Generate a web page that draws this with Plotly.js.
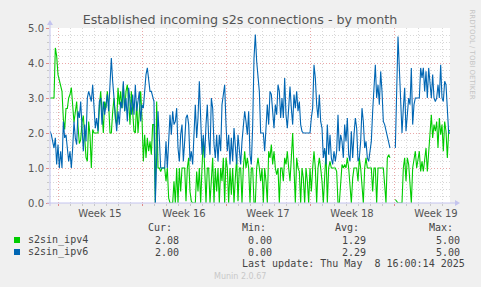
<!DOCTYPE html>
<html>
<head>
<meta charset="utf-8">
<script src="https://cdn.plot.ly/plotly-3.0.1.min.js"></script>
<style>html,body{margin:0;padding:0;background:#f0f0f0;}#chart{width:481px;height:287px;}</style>
</head>
<body>
<div id="chart"></div>
<script>
// ---- data ----
const seriesNames = ['s2sin_ipv4', 's2sin_ipv6'];
const seriesColors = ['#00cc00', '#0066b3'];
const startTime = '2025-04-05 08:00';
const endTime = '2025-05-08 16:00';
const stepMinutes = 160;

const ipv4 = [
  3.0,3.0,3.0,3.0,4.43,4.2,3.67,3.5,3.38,3.19,2.4,2.1,2.7,2.7,3.0,3.1,3.3,2.9,2.3,2.6,2.9,2.2,1.7,1.8,2.3,2.5,1.95,1.3,1.19,2.33,1.95,1.0,2.1,2.0,2.0,2.0,2.0,2.7,3.19,2.62,2.0,2.9,2.7,3.19,2.81,2.0,2.0,2.6,3.0,2.4,
  2.24,3.29,2.81,3.19,2.71,3.38,2.62,3.19,3.38,2.9,2.24,3.19,2.71,2.05,2.0,2.9,2.0,2.81,3.19,2.43,1.19,1.95,1.29,1.86,1.48,1.76,1.38,2.24,2.24,0,2.9,1.0,1.0,0.9,1.0,1.0,1.0,0.62,1.0,0.14,0,0,0,0.62,0,1.0,0,1.0,0.33,1.0,1.0,
  1.0,0.05,1.0,1.29,0.33,0.05,0,0,0,0.9,0.33,1.0,0,1.0,1.86,1.0,0,1.0,1.0,0,0.62,1.29,0,1.0,0.33,1.0,0,1.0,0.62,1.29,0,1.29,1.0,0,1.0,0.24,1.0,0,0.71,1.29,0.05,1.0,1.0,0,1.0,1.48,1.0,1.29,1.0,0,1.0,
  1.0,0,0,1.0,1.29,1.0,0.62,1.0,0,1.0,0.62,0,1.48,1.29,1.67,1.1,1.48,1.0,0.81,1.0,0,1.0,1.0,0.62,1.29,1.1,1.48,1.0,0.62,1.29,2.0,1.0,0,1.29,1.0,0.9,0,1.0,0.71,0,1.0,0.62,0,1.0,0.33,1.0,1.48,1.0,0,1.0,1.29,
  1.0,0.62,0,1.0,1.48,0,1.0,1.19,1.0,1.0,1.0,1.0,0.9,0,0,0.62,1.1,1.0,1.1,1.0,1.29,1.0,0.33,0,0.71,1.0,1.0,1.0,0.62,1.29,1.0,0.52,0,1.0,1.29,1.0,1.0,1.0,1.0,0.33,1.0,1.0,0,1.0,1.0,1.0,1.0,1.0,0.52,0,1.29,
  1.38,1.29,null,null,null,0.1,0.05,0,0,0,0,1.0,1.29,0.62,1.29,1.1,0.52,0,1.0,1.19,1.48,1.0,1.29,1.48,0.9,1.19,0.9,1.29,1.57,0.9,1.48,2.24,2.52,1.86,2.24,2.05,2.33,1.57,2.43,1.95,2.24,1.48,2.33,2.05,1.29,2.05,2.08
];
const ipv6 = [
  2.05,1.95,1.76,1.57,1.86,1.1,1.67,1.0,1.48,1.0,2.33,1.86,1.95,1.48,1.19,1.48,1.0,1.57,2.33,1.86,1.67,2.62,2.43,2.9,2.05,1.48,2.24,1.76,3.0,3.19,3.05,2.9,3.38,2.71,2.14,2.43,2.05,2.9,3.0,2.24,2.9,2.52,2.81,3.1,2.62,3.57,4.14,3.48,2.9,2.43,
  2.05,2.62,2.24,2.9,2.71,3.48,2.62,3.0,2.33,3.29,2.81,2.52,3.1,2.52,3.38,2.62,2.9,3.19,2.33,2.81,2.71,3.19,3.67,3.86,3.48,3.19,3.19,3.0,2.9,0,1.38,2.62,1.86,1.0,1.0,1.0,1.0,1.76,1.0,1.76,2.52,1.95,2.62,2.24,2.33,2.71,1.57,1.19,1.95,2.24,1.19,
  1.76,2.43,2.52,2.24,1.19,1.48,1.1,2.05,2.81,1.86,2.43,3.48,2.24,1.38,1.95,1.29,2.24,2.81,1.86,1.38,3.0,2.71,1.67,1.29,1.95,1.19,1.95,1.48,2.81,3.1,3.38,2.24,1.48,1.95,1.1,1.86,1.19,2.14,1.67,1.1,1.95,1.48,1.1,1.76,2.33,2.62,2.33,1.95,2.62,1.38,1.1,
  2.2,4.14,4.81,4.05,3.67,3.19,2.0,2.0,2.0,1.48,2.24,2.81,2.24,3.19,3.1,2.62,2.14,2.81,2.52,3.38,3.19,2.43,3.0,2.43,3.57,2.52,2.14,2.71,3.33,2.71,2.24,3.1,2.71,3.19,2.62,2.9,2.24,2.05,2.0,2.0,2.0,2.0,2.0,2.0,2.43,2.71,3.95,3.57,2.81,2.43,3.1,
  2.33,2.14,1.29,1.57,1.1,2.24,1.38,1.95,1.29,1.1,1.48,1.19,1.48,2.52,1.48,1.95,1.76,1.29,2.24,1.76,2.43,1.38,1.19,2.05,1.29,1.95,2.43,2.14,1.19,1.29,1.76,2.71,2.33,1.57,1.76,1.29,1.19,1.48,1.76,2.62,3.38,3.95,3.0,3.38,2.81,3.76,3.19,2.33,2.24,2.05,1.9,
  1.76,1.57,null,null,null,1.57,3.5,4.76,3.86,2.71,2.0,2.71,3.29,2.05,2.62,3.0,2.81,3.86,2.24,2.81,3.0,3.0,3.0,3.0,3.86,3.57,3.86,3.19,3.76,3.0,3.86,3.38,3.0,3.67,3.0,2.9,3.0,3.38,3.0,3.95,3.0,2.9,3.48,3.38,2.43,2.0,2.0
];

const weekStarts = ['2025-04-06', '2025-04-13', '2025-04-20', '2025-04-27', '2025-05-04'];
const weekLabels = ['Week 15', 'Week 16', 'Week 17', 'Week 18', 'Week 19'];
const statHeaders = ['Cur:', 'Min:', 'Avg:', 'Max:'];
const curVals = ['2.08', '2.00'];
const minVals = ['0.00', '0.00'];
const avgVals = ['1.29', '2.29'];
const maxVals = ['5.00', '5.00'];
const lastUpdate = 'Last update: Thu May\u00a0 8 16:00:14 2025';
const chartTitle = 'Established incoming s2s connections - by month';
const sideText = 'RRDTOOL / TOBI OETIKER';
const footerText = 'Munin 2.0.67';

// ---- helpers ----
function pad(n) { return String(n).padStart(2, '0'); }
function fmt(ms) {
  const d = new Date(ms);
  return d.getUTCFullYear() + '-' + pad(d.getUTCMonth() + 1) + '-' + pad(d.getUTCDate()) + ' ' +
         pad(d.getUTCHours()) + ':' + pad(d.getUTCMinutes());
}
function parseT(s) { return Date.parse(s.replace(' ', 'T') + (s.length > 10 ? ':00Z' : 'T00:00:00Z')); }
const t0 = parseT(startTime);
const times = ipv4.map((_, i) => fmt(t0 + i * stepMinutes * 60000));
const weekMids = weekStarts.map(s => fmt(parseT(s) + 3.5 * 86400000));

// figure pixel -> paper coords (plot area: x 50..450, y 28..203)
const L = 50, R = 450, T = 28, B = 203;
const px = x => (x - L) / (R - L);
const py = y => (B - y) / (B - T);

const axisCol = '#c4c4ee';
const redGrid = '#eaa8a8';
const grayGrid = '#d8d8d8';
const dots = '1px,2px';

// ipv4 on the grid axis, ipv6 on the overlaid labelled axis (drawn on top, same range)
const traces = [
  { x: times, y: ipv4, name: seriesNames[0], type: 'scatter', mode: 'lines', xaxis: 'x', yaxis: 'y',
    line: { color: seriesColors[0], width: 1.1 }, connectgaps: false, hoverinfo: 'skip' },
  { x: times, y: ipv6, name: seriesNames[1], type: 'scatter', mode: 'lines', xaxis: 'x2', yaxis: 'y',
    line: { color: seriesColors[1], width: 1.1 }, connectgaps: false, hoverinfo: 'skip' }
];

const mono = { family: 'DejaVu Sans Mono', size: 10, color: '#444' };
const annotations = [];
const headerRight = [173, 267, 360, 454];
const valueRight = [180, 273, 367, 461];
statHeaders.forEach((h, j) => annotations.push({
  xref: 'paper', yref: 'paper', x: px(headerRight[j]), y: py(227), xanchor: 'right', yanchor: 'middle',
  text: h, showarrow: false, font: mono, borderpad: 0
}));
const rowsY = [240, 252];
const statCols = [curVals, minVals, avgVals, maxVals];
seriesNames.forEach((n, i) => {
  annotations.push({ xref: 'paper', yref: 'paper', x: px(27), y: py(rowsY[i]), xanchor: 'left', yanchor: 'middle',
    text: n, showarrow: false, font: mono, borderpad: 0 });
  statCols.forEach((col, j) => annotations.push({
    xref: 'paper', yref: 'paper', x: px(valueRight[j]), y: py(rowsY[i]), xanchor: 'right', yanchor: 'middle',
    text: col[i], showarrow: false, font: mono, borderpad: 0 }));
});
annotations.push({ xref: 'paper', yref: 'paper', x: px(466), y: py(263.5), xanchor: 'right', yanchor: 'middle',
  text: lastUpdate, showarrow: false, font: mono, borderpad: 0 });
annotations.push({ xref: 'paper', yref: 'paper', x: px(240), y: py(276), xanchor: 'center', yanchor: 'middle',
  text: footerText, showarrow: false, font: { family: 'DejaVu Sans', size: 8, color: '#c8c8c8' }, borderpad: 0 });
annotations.push({ xref: 'paper', yref: 'paper', x: px(471.5), y: py(54), xanchor: 'center', yanchor: 'middle',
  text: sideText, textangle: 90, showarrow: false, font: { family: 'DejaVu Sans', size: 7, color: '#c4c4c4' }, borderpad: 0 });

const shapes = [
  { type: 'line', xref: 'paper', yref: 'paper', x0: px(47), x1: px(456), y0: py(203), y1: py(203), line: { color: axisCol, width: 1 } },
  { type: 'line', xref: 'paper', yref: 'paper', x0: px(50), x1: px(50), y0: py(206), y1: py(24), line: { color: axisCol, width: 1 } },
  { type: 'path', xref: 'paper', yref: 'paper', path: `M ${px(455)} ${py(200)} L ${px(460)} ${py(203)} L ${px(455)} ${py(206)} Z`, fillcolor: axisCol, line: { width: 0 } },
  { type: 'path', xref: 'paper', yref: 'paper', path: `M ${px(47)} ${py(25)} L ${px(50)} ${py(20)} L ${px(53)} ${py(25)} Z`, fillcolor: axisCol, line: { width: 0 } }
];
seriesColors.forEach((c, i) => shapes.push({
  type: 'rect', xref: 'paper', yref: 'paper', x0: px(14), x1: px(20), y0: py(rowsY[i] - 3), y1: py(rowsY[i] + 3),
  fillcolor: c, line: { width: 0 }
}));

const layout = {
  width: 481, height: 287,
  margin: { l: L, r: 481 - R, t: T, b: 287 - B, pad: 0 },
  paper_bgcolor: '#f0f0f0', plot_bgcolor: '#ffffff',
  showlegend: false,
  font: { family: 'DejaVu Sans', size: 10, color: '#555' },
  title: { text: chartTitle, font: { family: 'DejaVu Sans', size: 12.7, color: '#555' },
    x: 240 / 481, xanchor: 'center', xref: 'container', y: 1 - 19.5 / 287, yanchor: 'middle', yref: 'container' },
  xaxis: {
    type: 'date', range: [startTime, endTime], tickmode: 'array', tickvals: weekStarts,
    showticklabels: false, ticks: 'outside', ticklen: 2, tickcolor: '#e08a8a',
    showgrid: true, gridcolor: redGrid, griddash: dots, gridwidth: 1,
    minor: { tickmode: 'linear', tick0: weekStarts[0], dtick: 86400000, showgrid: true,
      gridcolor: grayGrid, griddash: dots, ticks: 'outside', ticklen: 2, tickcolor: '#c8c8c8' },
    zeroline: false, showline: false, fixedrange: true
  },
  xaxis2: {
    type: 'date', overlaying: 'x', anchor: 'y', side: 'bottom', range: [startTime, endTime],
    tickmode: 'array', tickvals: weekMids, ticktext: weekLabels, showgrid: false, ticks: '',
    ticklabelstandoff: 3,
    showline: false, zeroline: false, tickfont: { family: 'DejaVu Sans', size: 10, color: '#555' }
  },
  yaxis: {
    range: [0, 5], tickmode: 'linear', tick0: 0, dtick: 1, tickformat: '.1f',
    showgrid: true, gridcolor: redGrid, griddash: dots, gridwidth: 1,
    ticks: 'outside', ticklen: 3, tickcolor: '#e08a8a',
    minor: { dtick: 0.2, showgrid: true, gridcolor: grayGrid, griddash: dots, ticks: 'outside', ticklen: 2, tickcolor: '#c8c8c8' },
    zeroline: false, showline: false, tickfont: { family: 'DejaVu Sans', size: 10, color: '#555' }
  },
  annotations: annotations,
  shapes: shapes
};

Plotly.newPlot('chart', traces, layout, { staticPlot: true, displayModeBar: false });
</script>
</body>
</html>
